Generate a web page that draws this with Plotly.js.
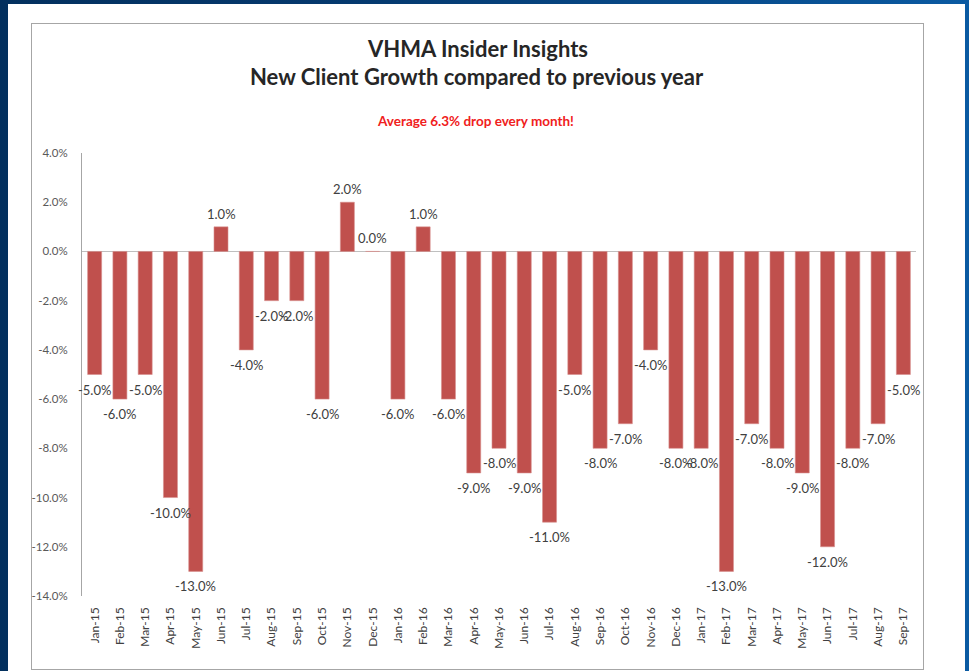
<!DOCTYPE html>
<html>
<head>
<meta charset="utf-8">
<script src="https://cdn.plot.ly/plotly-3.0.1.min.js"></script>
<style>
  html, body { margin:0; padding:0; width:969px; height:671px; overflow:hidden; }
  body { background: linear-gradient(to right, #03305e 0%, #053a70 40%, #0a5aa2 100%); position:relative; }
  #white { position:absolute; left:8px; top:4px; width:957px; height:667px; background:#ffffff; }
  #box { position:absolute; left:31px; top:23px; width:891px; height:645px; border:1px solid #a6a6a6; background:#ffffff; }
  #chart { position:absolute; left:0; top:0; width:969px; height:671px; }
</style>
</head>
<body>
<div id="white"></div>
<div id="box"></div>
<div id="chart"></div>
<script>
const months = ["Jan-15","Feb-15","Mar-15","Apr-15","May-15","Jun-15","Jul-15","Aug-15","Sep-15","Oct-15","Nov-15","Dec-15",
                "Jan-16","Feb-16","Mar-16","Apr-16","May-16","Jun-16","Jul-16","Aug-16","Sep-16","Oct-16","Nov-16","Dec-16",
                "Jan-17","Feb-17","Mar-17","Apr-17","May-17","Jun-17","Jul-17","Aug-17","Sep-17"];
const growth = [-5,-6,-5,-10,-13,1,-4,-2,-2,-6,2,0,
                -6,1,-6,-9,-8,-9,-11,-5,-8,-7,-4,-8,
                -8,-13,-7,-8,-9,-12,-8,-7,-5];
const yTicks = [4,2,0,-2,-4,-6,-8,-10,-12,-14];
const titleLine1 = "VHMA Insider Insights";
const titleLine2 = "New Client Growth compared to previous year";
const subtitle = "Average 6.3% drop every month!";

const W = 969, H = 671;
const M = {l:82, r:53, t:153, b:75};
const ph = H - M.t - M.b, pw = W - M.l - M.r;
const px = x => (x - M.l) / pw;
const py = y => 1 - (y - M.t) / ph;
const FONT = 'Lato, sans-serif';

const trace = {
  type: 'bar',
  x: months,
  y: growth,
  marker: { color: '#c0504d', line: { color: '#d68f8d', width: 0.6 } },
  hoverinfo: 'skip'
};

const dataLabels = months.map((m, i) => ({
  x: m, y: growth[i], xref: 'x', yref: 'y',
  text: growth[i].toFixed(1) + '%',
  showarrow: false,
  xanchor: 'center',
  yanchor: growth[i] < 0 ? 'top' : 'bottom',
  yshift: growth[i] < 0 ? -5 : 3,
  font: { family: FONT, size: 13, color: '#404040' }
}));

const layout = {
  width: W, height: H,
  margin: M,
  paper_bgcolor: 'rgba(0,0,0,0)',
  plot_bgcolor: 'rgba(0,0,0,0)',
  showlegend: false,
  bargap: 0.446,
  font: { family: FONT, color: '#404040' },
  xaxis: {
    type: 'category',
    range: [-0.5, months.length - 0.5],
    autorange: false,
    tickangle: -90,
    tickfont: { size: 12, color: '#404040' },
    showline: false, ticks: '', showgrid: false, zeroline: false,
    ticklabelstandoff: 8,
    fixedrange: true
  },
  yaxis: {
    range: [-14, 4],
    autorange: false,
    tickvals: yTicks,
    ticktext: yTicks.map(v => v.toFixed(1) + '%'),
    tickfont: { size: 11.5, color: '#595959' },
    showline: true, linecolor: '#a6a6a6', linewidth: 1,
    zeroline: true, zerolinecolor: '#bfbfbf', zerolinewidth: 1,
    showgrid: false, ticks: '',
    ticklabelstandoff: 11,
    fixedrange: true
  },
  annotations: [
    { text: '<b>' + titleLine1 + '</b>', xref:'paper', yref:'paper', x: px(477), y: py(49), xanchor:'center', yanchor:'middle', showarrow:false,
      font: { family: FONT, size: 22, color: '#262626' } },
    { text: '<b>' + titleLine2 + '</b>', xref:'paper', yref:'paper', x: px(477), y: py(77), xanchor:'center', yanchor:'middle', showarrow:false,
      font: { family: FONT, size: 22, color: '#262626' } },
    { text: '<b>' + subtitle + '</b>', xref:'paper', yref:'paper', x: px(475), y: py(121), xanchor:'center', yanchor:'middle', showarrow:false,
      font: { family: FONT, size: 13.5, color: '#f02020' } }
  ].concat(dataLabels)
};

Plotly.newPlot('chart', [trace], layout, { displayModeBar: false, staticPlot: true });
</script>
</body>
</html>
